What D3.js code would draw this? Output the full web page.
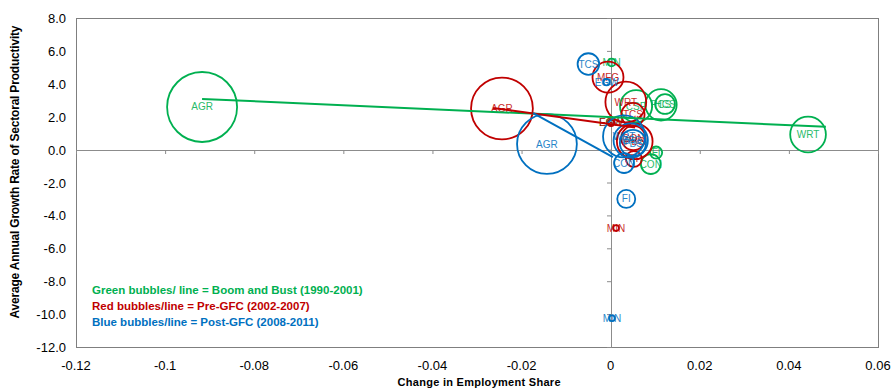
<!DOCTYPE html>
<html>
<head>
<meta charset="utf-8">
<script src="https://d3js.org/d3.v7.min.js"></script>
<style>
    body {
        margin: 0;
        background: #fff;
        font-family: 'Liberation Sans', Arial, sans-serif;
    }
</style>
</head>
<body>
<svg id="chart" width="893" height="390"></svg>
<script>
    // x = change in employment share, y = avg annual productivity growth, size = bubble area
    const xTicks = [-0.12, -0.1, -0.08, -0.06, -0.04, -0.02, 0, 0.02, 0.04, 0.06];
    const yTicks = [8, 6, 4, 2, 0, -2, -4, -6, -8, -10, -12];

    const greenSectors = ['AGR', 'WRT', 'MIN', 'CSP', 'PCS', 'HCS', 'CON', 'FI', 'EGW'];
    const greenX = [-0.0917, 0.0443, 0.0002, 0.0057, 0.0113, 0.0122, 0.009, 0.0102, 0.0];
    const greenY = [2.59, 0.92, 5.3, 2.64, 2.72, 2.77, -0.88, -0.18, 1.65];
    const greenSize = [100, 26, 1.2, 21, 20, 8, 8, 3, 0.8];

    const redSectors = ['AGR', 'MFG', 'WRT', 'TCS', 'EGW', 'CON', 'PBS', 'FI', 'MIN'];
    const redX = [-0.0244, -0.0006, 0.0034, 0.005, 0.0001, 0.0051, 0.0054, 0.0052, 0.0012];
    const redY = [2.5, 4.4, 2.89, 2.13, 1.62, 0.7, 0.5, -0.57, -4.77];
    const redSize = [78, 19.6, 34, 11, 0.8, 12, 26, 5.2, 0.7];

    const blueSectors = ['AGR', 'TCS', 'EGW', 'WRT', 'MFG', 'PBS', 'CON', 'FI', 'MIN'];
    const blueX = [-0.0143, -0.005, -0.0009, 0.003, 0.0045, 0.005, 0.003, 0.0035, 0.0003];
    const blueY = [0.34, 5.2, 4.1, 0.8, 0.55, 0.4, -0.82, -3.0, -10.25];
    const blueSize = [73, 9.5, 0.8, 36, 24, 14, 8, 6.6, 0.7];

    // trend line end points [x, y]
    const greenLine = [[-0.0917, 3.08], [0.0483, 1.39]];
    const redLine = [[-0.0264, 2.53], [0.0055, 1.35]];
    const blueLine = [[-0.0174, 2.22], [0.0005, -0.45]];

    const legendText = [
        'Green bubbles/ line = Boom and Bust (1990-2001)',
        'Red bubbles/line = Pre-GFC (2002-2007)',
        'Blue bubbles/line = Post-GFC (2008-2011)'
    ];

    const colors = { green: '#00B050', red: '#C00000', blue: '#0070C0' };

    const svg = d3.select('#chart');
    const plotL = 76, plotR = 878, plotT = 18, plotB = 347;

    const x = d3.scaleLinear().domain([-0.12, 0.06]).range([plotL, plotR]);
    const y = d3.scaleLinear().domain([-12, 8]).range([plotB, plotT]);
    const r = d3.scaleSqrt().domain([0, 100]).range([0, 35]);

    // plot frame
    svg.append('rect')
        .attr('x', plotL + 0.5).attr('y', plotT + 0.5)
        .attr('width', plotR - plotL).attr('height', plotB - plotT)
        .attr('fill', 'none').attr('stroke', '#7f7f7f').attr('stroke-width', 1);

    // axes crossing at zero
    const xAxis = svg.append('g')
        .attr('transform', 'translate(0,' + Math.round(y(0)) + ')')
        .call(d3.axisBottom(x).tickValues(xTicks).tickSize(4).tickFormat(''));
    const yAxis = svg.append('g')
        .attr('transform', 'translate(' + Math.round(x(0)) + ',0)')
        .call(d3.axisLeft(y).tickValues(yTicks).tickSize(4).tickFormat(''));
    [xAxis, yAxis].forEach(function(a) {
        a.select('.domain').attr('stroke', '#8c8c8c');
        a.selectAll('.tick line').attr('stroke', '#8c8c8c');
    });

    // tick labels along the frame
    svg.append('g').selectAll('text')
        .data(xTicks).join('text')
        .attr('x', d => x(d)).attr('y', 370)
        .attr('text-anchor', 'middle')
        .attr('font-size', 13).attr('fill', '#000')
        .text(d => String(d));

    svg.append('g').selectAll('text')
        .data(yTicks).join('text')
        .attr('x', 66).attr('y', d => y(d) + 5)
        .attr('text-anchor', 'end')
        .attr('font-size', 13).attr('fill', '#000')
        .text(d => d.toFixed(1));

    svg.append('text')
        .attr('x', (plotL + plotR) / 2 + 2).attr('y', 386)
        .attr('text-anchor', 'middle')
        .attr('font-size', 11).attr('font-weight', 'bold')
        .attr('textLength', 163)
        .text('Change in Employment Share');

    svg.append('text')
        .attr('transform', 'translate(19,' + 172 + ')rotate(-90)')
        .attr('text-anchor', 'middle')
        .attr('font-size', 12).attr('font-weight', 'bold')
        .attr('textLength', 293)
        .text('Average Annual Growth Rate of Sectoral Productivity');

    function series(sectors, xs, ys, sizes, color) {
        const pts = sectors.map((s, i) => ({ s: s, x: xs[i], y: ys[i], size: sizes[i] }));
        const g = svg.append('g');
        g.selectAll('circle').data(pts).join('circle')
            .attr('cx', d => x(d.x)).attr('cy', d => y(d.y))
            .attr('r', d => r(d.size))
            .attr('fill', 'none').attr('stroke', color).attr('stroke-width', 1.8);
        g.selectAll('text').data(pts).join('text')
            .attr('x', d => x(d.x)).attr('y', d => y(d.y) + 3.5)
            .attr('text-anchor', 'middle')
            .attr('font-size', 10).attr('fill', color)
            .attr('opacity', 0.85)
            .text(d => d.s);
    }

    function trend(pts, color) {
        svg.append('path')
            .datum(pts)
            .attr('fill', 'none').attr('stroke', color).attr('stroke-width', 2)
            .attr('d', d3.line().x(d => x(d[0])).y(d => y(d[1])));
    }

    series(greenSectors, greenX, greenY, greenSize, colors.green);
    series(redSectors, redX, redY, redSize, colors.red);
    series(blueSectors, blueX, blueY, blueSize, colors.blue);
    trend(greenLine, colors.green);
    trend(redLine, colors.red);
    trend(blueLine, colors.blue);

    svg.append('g').selectAll('text')
        .data(legendText).join('text')
        .attr('x', 92).attr('y', (d, i) => 294 + i * 16)
        .attr('font-size', 11.5).attr('font-weight', 'bold')
        .attr('fill', (d, i) => [colors.green, colors.red, colors.blue][i])
        .text(d => d);
</script>
</body>
</html>
